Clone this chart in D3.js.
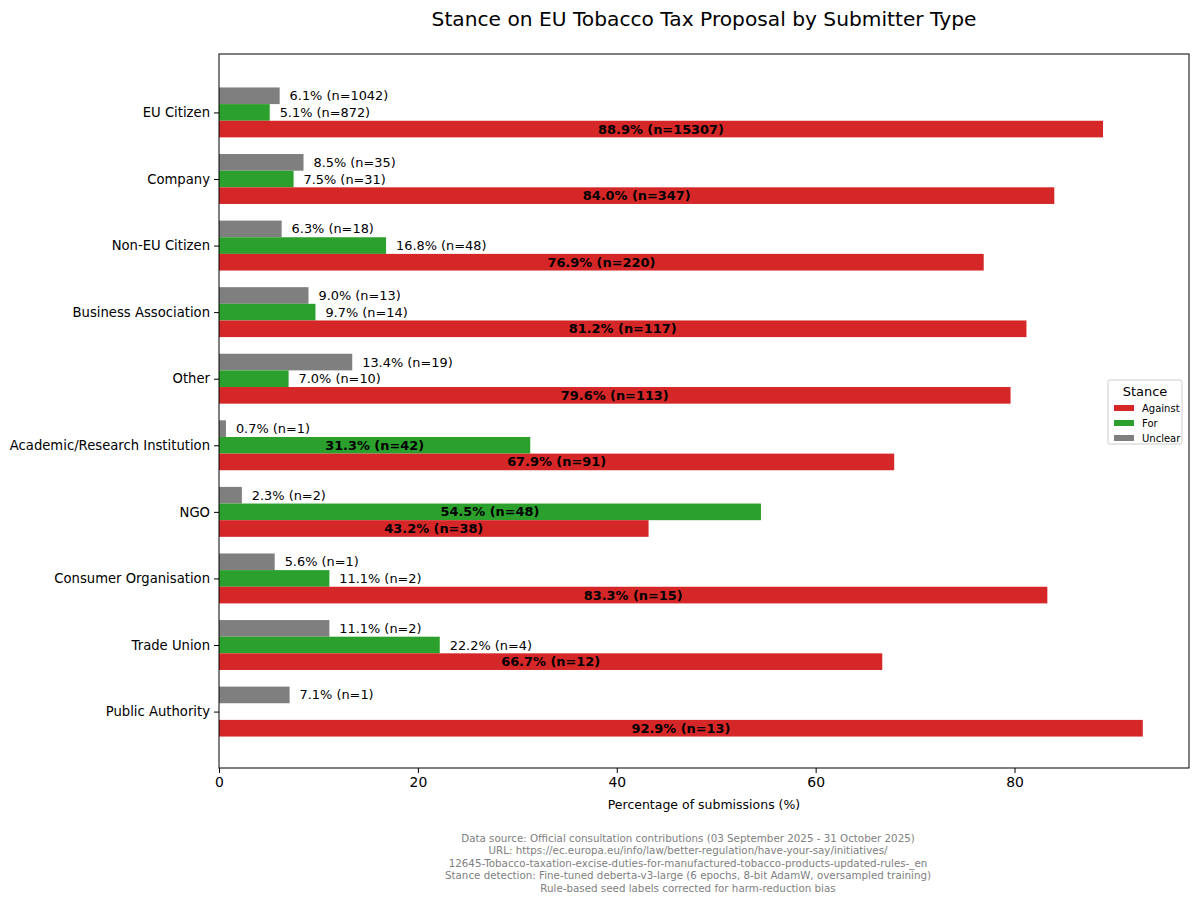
<!DOCTYPE html>
<html>
<head>
<meta charset="utf-8">
<script src="https://cdn.jsdelivr.net/npm/d3@7"></script>
<style>
  body { margin: 0; background: #fff; }
  text { font-family: "DejaVu Sans", sans-serif; }
</style>
</head>
<body>
<div id="chart"></div>
<script>
(function(){
  "use strict";

  // submitter types, top to bottom
  var categories = ["EU Citizen", "Company", "Non-EU Citizen", "Business Association", "Other",
    "Academic/Research Institution", "NGO", "Consumer Organisation", "Trade Union", "Public Authority"];
  var stances = ["Against", "For", "Unclear"];
  var againstPct = [88.9, 84.0, 76.9, 81.2, 79.6, 67.9, 43.2, 83.3, 66.7, 92.9];
  var againstN   = [15307, 347, 220, 117, 113, 91, 38, 15, 12, 13];
  var forPct     = [5.1, 7.5, 16.8, 9.7, 7.0, 31.3, 54.5, 11.1, 22.2, 0];
  var forN       = [872, 31, 48, 14, 10, 42, 48, 2, 4, 0];
  var unclearPct = [6.1, 8.5, 6.3, 9.0, 13.4, 0.7, 2.3, 5.6, 11.1, 7.1];
  var unclearN   = [1042, 35, 18, 13, 19, 1, 2, 1, 2, 1];
  var xTicks = [0, 20, 40, 60, 80];
  var footer = [
    "Data source: Official consultation contributions (03 September 2025 - 31 October 2025)",
    "URL: https://ec.europa.eu/info/law/better-regulation/have-your-say/initiatives/",
    "12645-Tobacco-taxation-excise-duties-for-manufactured-tobacco-products-updated-rules-_en",
    "Stance detection: Fine-tuned deberta-v3-large (6 epochs, 8-bit AdamW, oversampled training)",
    "Rule-based seed labels corrected for harm-reduction bias"
  ];

  var colors = {Against: "#d62728", For: "#2ca02c", Unclear: "#7f7f7f"};
  var offsets = {Against: 0.25, For: 0, Unclear: -0.25};

  var width = 1200, height = 902;
  var margin = {left: 219, right: 11, top: 54, bottom: 134};
  var plotW = width - margin.left - margin.right;
  var plotH = height - margin.top - margin.bottom;

  // flatten into one row per bar
  var bars = [];
  categories.forEach(function(c, i){
    bars.push({cat: c, i: i, stance: "Unclear", pct: unclearPct[i], n: unclearN[i]});
    bars.push({cat: c, i: i, stance: "For", pct: forPct[i], n: forN[i]});
    bars.push({cat: c, i: i, stance: "Against", pct: againstPct[i], n: againstN[i]});
  });

  var maxV = d3.max(bars, function(d){ return d.pct; });
  var x = d3.scaleLinear().domain([0, maxV * 1.05]).range([0, plotW]);
  // matplotlib-style y: positions 0..9, bars span -0.375..9.375, 5% margin
  var span = (categories.length - 1) + 0.75;
  var y = d3.scaleLinear()
    .domain([-0.375 - span * 0.05, categories.length - 1 + 0.375 + span * 0.05])
    .range([0, plotH]);
  var bh = y(0.25) - y(0);

  var svg = d3.select("#chart").append("svg")
    .attr("width", width).attr("height", height);

  svg.append("text")
    .attr("x", 704).attr("y", 26)
    .attr("text-anchor", "middle")
    .style("font-size", "20.2px")
    .text("Stance on EU Tobacco Tax Proposal by Submitter Type");

  var g = svg.append("g").attr("transform", "translate(" + margin.left + "," + (margin.top + 1) + ")");

  g.selectAll("rect.bar")
    .data(bars)
    .enter().append("rect")
    .attr("class", "bar")
    .attr("x", x(0))
    .attr("y", function(d){ return y(d.i + offsets[d.stance]) - bh / 2; })
    .attr("width", function(d){ return x(d.pct) - x(0); })
    .attr("height", bh)
    .attr("fill", function(d){ return colors[d.stance]; });

  // value labels: big bars get bold label inside, small ones outside
  g.selectAll("text.lbl")
    .data(bars.filter(function(d){ return d.n > 0; }))
    .enter().append("text")
    .attr("class", "lbl")
    .attr("x", function(d){ return d.pct > 25 ? x(d.pct / 2) : x(d.pct + 1); })
    .attr("y", function(d){ return y(d.i + offsets[d.stance]); })
    .attr("dy", "0.35em")
    .attr("text-anchor", function(d){ return d.pct > 25 ? "middle" : "start"; })
    .style("font-size", "12.9px")
    .style("font-weight", function(d){ return d.pct > 25 ? "bold" : "normal"; })
    .text(function(d){ return d.pct.toFixed(1) + "% (n=" + d.n + ")"; });

  // axes
  var xAxis = g.append("g")
    .attr("transform", "translate(0," + (plotH - 1) + ")")
    .call(d3.axisBottom(x).tickValues(xTicks).tickSize(5).tickPadding(4));
  xAxis.selectAll("text").style("font-size", "13.9px").attr("fill", "#000");

  var yAxis = g.append("g")
    .call(d3.axisLeft(y).tickValues(d3.range(categories.length))
      .tickFormat(function(i){ return categories[i]; }).tickSize(5).tickPadding(4));
  yAxis.selectAll("text").style("font-size", "13.2px").attr("fill", "#000");
  [xAxis, yAxis].forEach(function(a){
    a.select(".domain").remove();
    a.selectAll("line").attr("stroke", "#000");
  });

  g.append("rect")
    .attr("y", -1)
    .attr("width", plotW).attr("height", plotH)
    .attr("fill", "none").attr("stroke", "#000").attr("stroke-width", 1);

  g.append("text")
    .attr("x", plotW / 2).attr("y", plotH + 40)
    .attr("text-anchor", "middle")
    .style("font-size", "12.5px")
    .text("Percentage of submissions (%)");

  // legend
  var lg = g.append("g").attr("transform", "translate(" + (plotW - 81) + "," + (y(4.5) - 32) + ")");
  lg.append("rect")
    .attr("width", 74).attr("height", 64).attr("rx", 2)
    .attr("fill", "#fff").attr("stroke", "#ccc");
  lg.append("text").attr("x", 37).attr("y", 16).attr("text-anchor", "middle")
    .style("font-size", "13px").text("Stance");
  stances.forEach(function(s, k){
    var yy = 26 + k * 15;
    lg.append("rect").attr("x", 6).attr("y", yy - 1).attr("width", 20).attr("height", 6)
      .attr("fill", colors[s]);
    lg.append("text").attr("x", 34).attr("y", yy + 2).attr("dy", "0.35em")
      .style("font-size", "10px").text(s);
  });

  // footer notes
  svg.selectAll("text.foot")
    .data(footer)
    .enter().append("text")
    .attr("class", "foot")
    .attr("x", 688)
    .attr("y", function(d, i){ return 842 + i * 12.4; })
    .attr("text-anchor", "middle")
    .attr("fill", "#808080")
    .style("font-size", "10.3px")
    .text(function(d){ return d; });
})();
</script>
</body>
</html>
